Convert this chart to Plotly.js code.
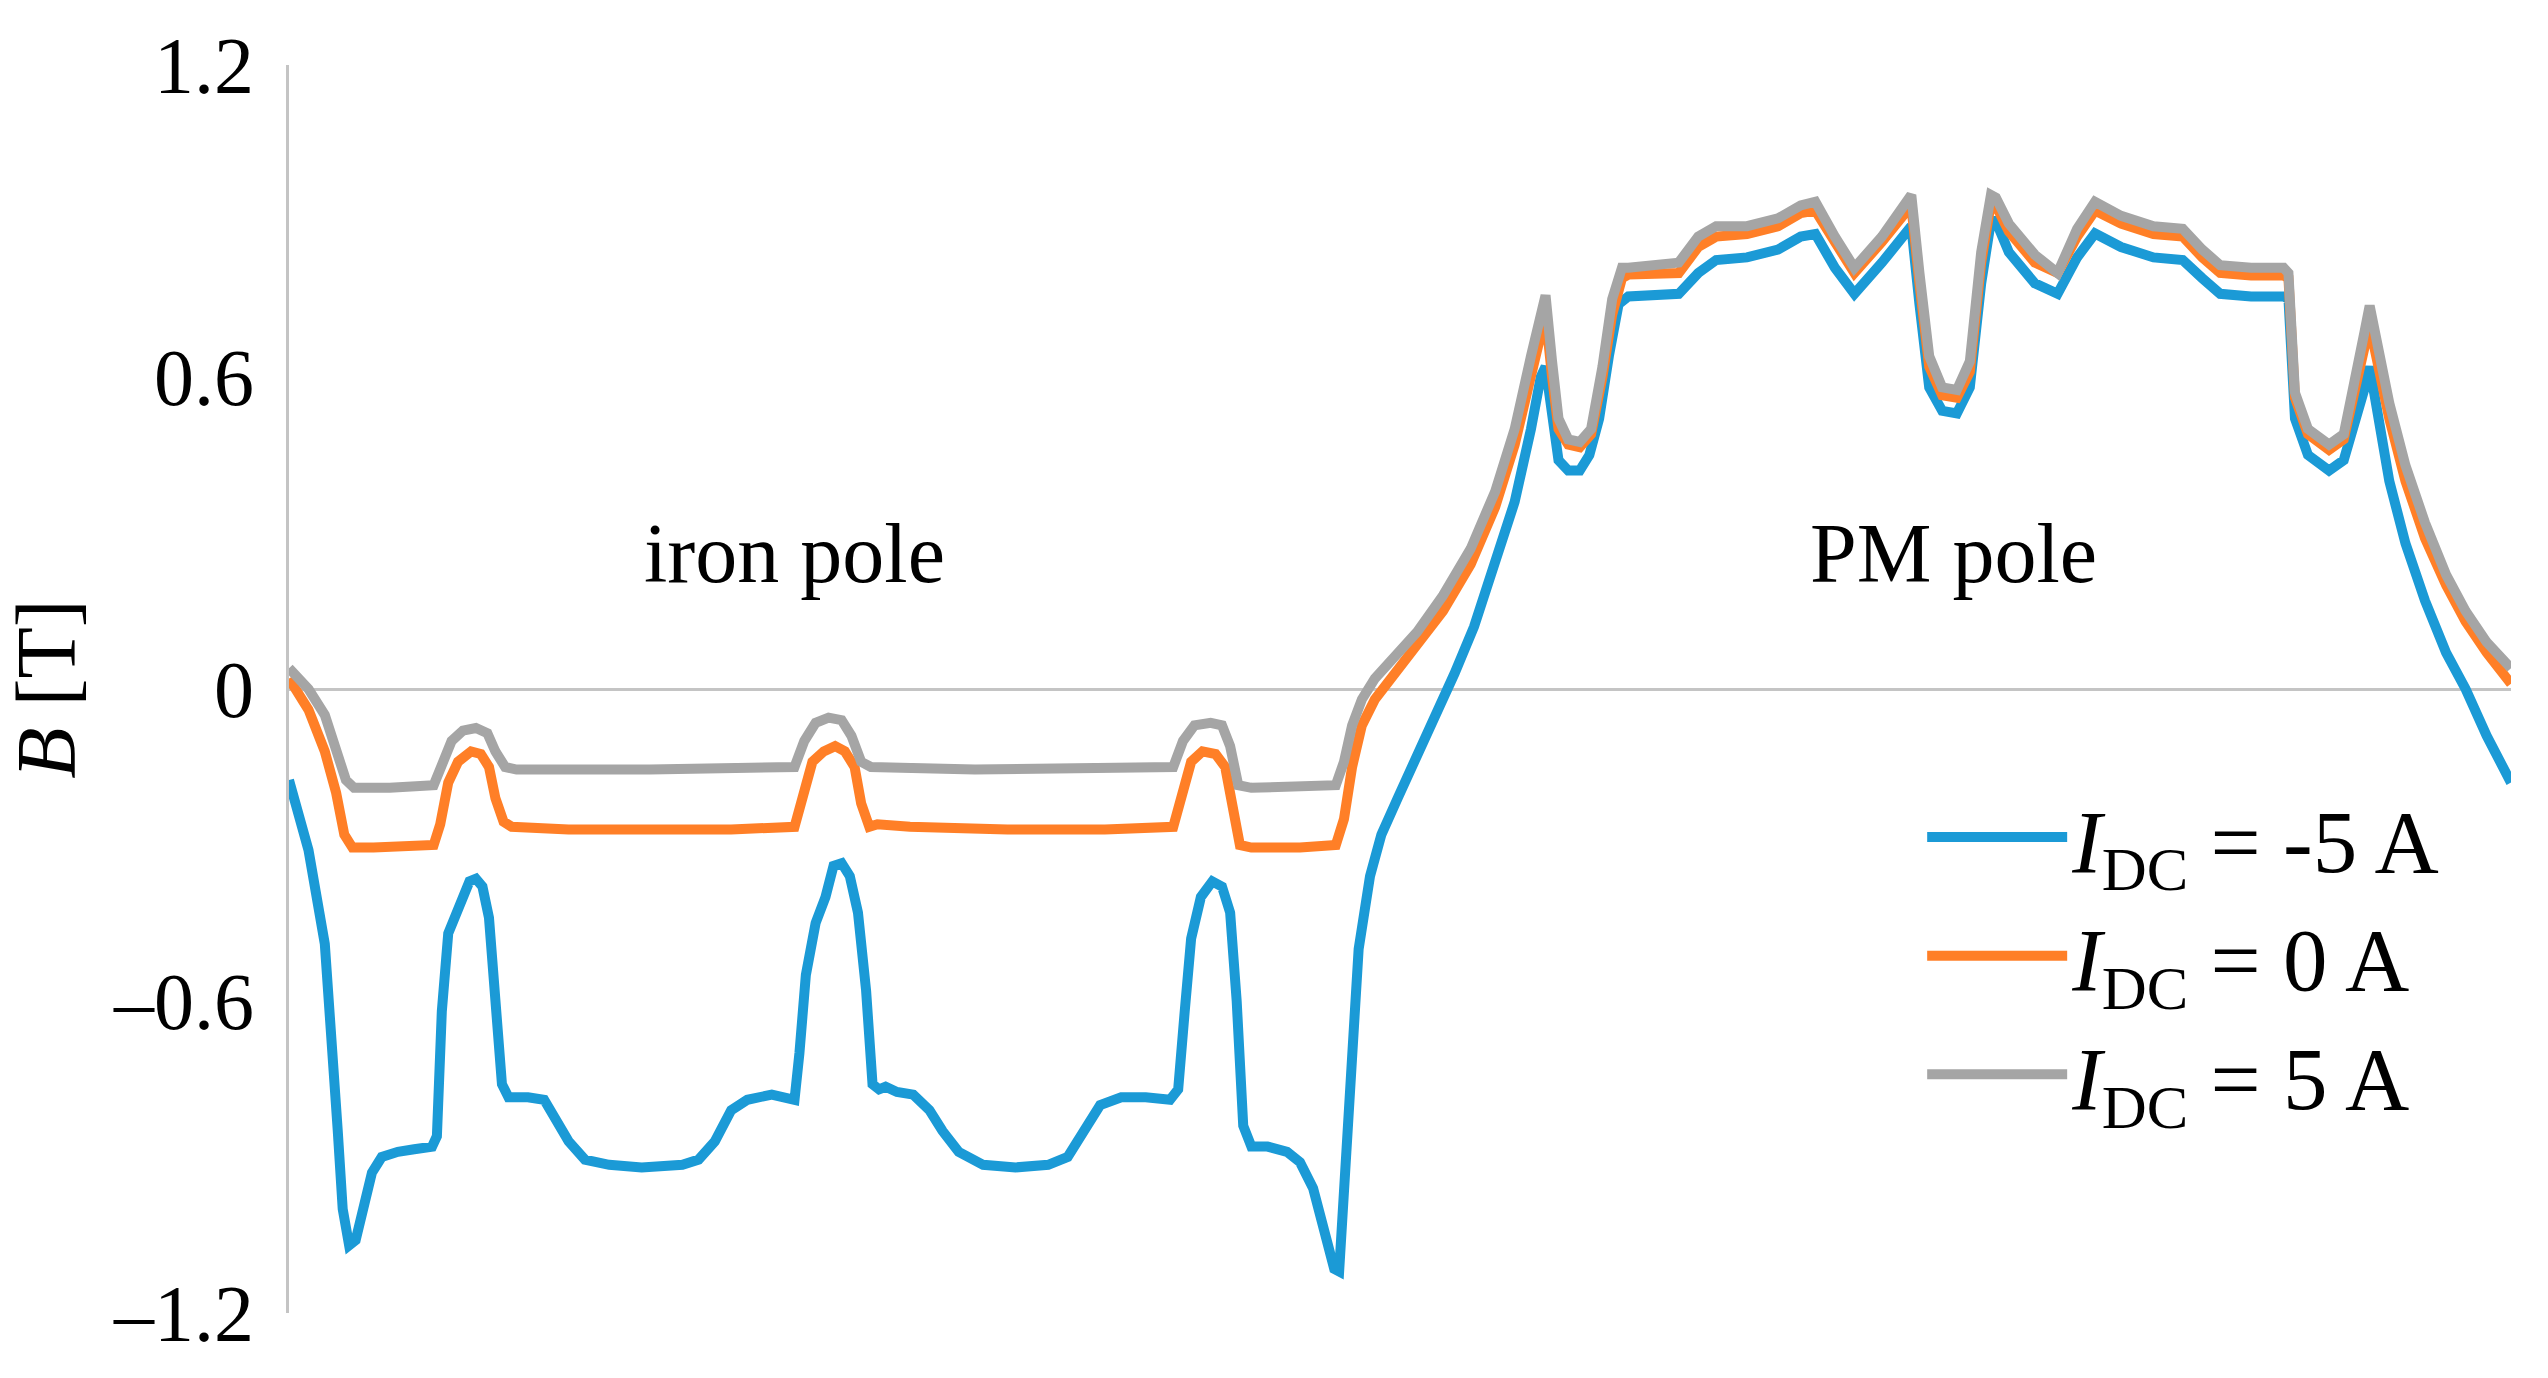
<!DOCTYPE html>
<html>
<head>
<meta charset="utf-8">
<script src="https://cdn.plot.ly/plotly-3.0.1.min.js"></script>
<style>
  html, body { margin: 0; padding: 0; background: #ffffff; }
  #chart { width: 2548px; height: 1378px; }
</style>
</head>
<body>
<div id="chart"></div>
<script>
// Rotor position (arbitrary angular units, no axis ticks in the original)
const posNeg5 = [0,1.58,2.90,3.56,3.95,4.35,4.87,5.40,6.06,6.72,7.51,8.82,10.14,11.59,11.98,12.38,12.90,13.69,14.62,15.14,15.67,16.20,16.72,17.25,17.78,19.36,20.67,21.73,22.65,23.97,25.94,28.57,31.87,33.18,34.50,35.82,37.13,39.11,40.43,40.95,41.35,41.87,42.66,43.46,44.11,44.77,45.43,46.09,46.75,47.27,47.80,48.33,49.25,50.57,51.88,52.94,54.25,56.23,58.86,61.50,63.08,64.39,65.71,67.42,69.40,71.37,72.03,72.56,73.08,73.87,74.80,75.58,76.24,76.77,77.30,77.96,79.27,80.85,81.90,82.96,83.88,84.67,85.07,85.46,85.99,86.65,87.57,88.49,89.81,91.39,93.10,94.42,96.00,97.71,99.29,100.61,101.40,101.79,102.32,102.84,103.63,104.56,105.34,106.13,106.92,107.71,108.50,110.60,112.58,114.16,115.61,118.11,120.62,122.46,123.65,125.23,126.81,129.04,130.89,131.42,132.08,132.87,133.92,135.11,136.16,137.08,137.87,138.27,139.32,141.43,143.27,144.85,146.30,148.41,151.04,153.41,154.99,156.44,158.94,161.58,161.97,162.50,163.55,165.26,166.45,167.50,168.16,168.55,169.21,170.14,171.45,173.03,174.74,176.32,178.03,180];
const bNeg5 = [-0.175,-0.31,-0.49,-0.68,-0.85,-1.00,-1.07,-1.06,-1.00,-0.93,-0.90,-0.89,-0.885,-0.88,-0.86,-0.62,-0.47,-0.42,-0.37,-0.365,-0.38,-0.44,-0.62,-0.76,-0.785,-0.785,-0.79,-0.83,-0.87,-0.905,-0.915,-0.92,-0.915,-0.905,-0.87,-0.81,-0.79,-0.78,-0.785,-0.79,-0.70,-0.55,-0.45,-0.40,-0.34,-0.335,-0.36,-0.43,-0.58,-0.76,-0.77,-0.765,-0.775,-0.78,-0.81,-0.85,-0.89,-0.915,-0.92,-0.915,-0.90,-0.85,-0.80,-0.785,-0.785,-0.79,-0.77,-0.62,-0.48,-0.40,-0.37,-0.38,-0.43,-0.60,-0.84,-0.88,-0.88,-0.89,-0.91,-0.96,-1.04,-1.115,-1.12,-0.95,-0.70,-0.50,-0.36,-0.28,-0.21,-0.13,-0.04,0.03,0.12,0.24,0.36,0.50,0.60,0.62,0.52,0.44,0.42,0.42,0.45,0.52,0.64,0.74,0.755,0.76,0.76,0.80,0.825,0.83,0.845,0.87,0.875,0.81,0.76,0.82,0.87,0.89,0.74,0.58,0.535,0.53,0.58,0.78,0.90,0.90,0.84,0.78,0.76,0.83,0.876,0.85,0.83,0.825,0.79,0.76,0.755,0.755,0.75,0.52,0.45,0.42,0.44,0.52,0.58,0.62,0.52,0.40,0.28,0.17,0.07,0.00,-0.09,-0.18];

const pos0 = [0,1.58,2.90,3.82,4.48,5.14,6.85,9.48,11.72,12.25,12.90,13.69,14.75,15.54,16.20,16.72,17.38,18.04,22.65,29.23,35.82,40.95,41.61,42.40,43.32,44.24,45.03,45.82,46.35,47.01,47.67,50.30,58.20,66.10,71.63,72.29,73.08,74.00,75.06,75.84,76.37,77.03,77.96,81.90,84.80,85.46,86.12,86.91,87.96,89.55,91.39,93.49,95.73,97.71,99.29,100.61,101.40,101.79,102.32,102.84,103.63,104.56,105.48,106.40,107.19,107.98,108.50,110.87,112.58,114.16,115.61,118.11,120.62,122.46,123.65,125.23,126.81,129.04,130.89,131.42,132.08,132.87,133.92,135.11,136.16,137.08,137.87,138.27,139.32,141.43,143.27,144.85,146.30,148.41,151.04,153.41,154.99,156.44,158.94,161.58,161.97,162.50,163.55,165.26,166.45,167.50,168.16,168.55,169.21,170.14,171.45,173.03,174.74,176.32,178.03,180];
const b0 = [0.02,-0.04,-0.12,-0.20,-0.28,-0.305,-0.305,-0.30,-0.30,-0.26,-0.18,-0.14,-0.12,-0.125,-0.15,-0.21,-0.255,-0.265,-0.27,-0.27,-0.27,-0.265,-0.20,-0.14,-0.12,-0.11,-0.12,-0.15,-0.22,-0.265,-0.26,-0.265,-0.27,-0.27,-0.265,-0.20,-0.14,-0.12,-0.125,-0.15,-0.21,-0.30,-0.305,-0.305,-0.30,-0.25,-0.15,-0.07,-0.02,0.03,0.08,0.15,0.24,0.35,0.47,0.60,0.69,0.72,0.60,0.50,0.47,0.465,0.49,0.60,0.72,0.79,0.797,0.80,0.80,0.85,0.87,0.875,0.89,0.915,0.92,0.86,0.80,0.86,0.915,0.93,0.78,0.62,0.565,0.56,0.61,0.82,0.935,0.93,0.88,0.82,0.80,0.87,0.92,0.895,0.875,0.87,0.83,0.80,0.795,0.795,0.79,0.56,0.49,0.46,0.48,0.58,0.66,0.70,0.62,0.52,0.40,0.29,0.20,0.13,0.07,0.01];

const pos5 = [0,1.58,2.90,3.82,4.61,5.27,8.16,11.72,12.38,13.17,14.09,15.14,16.07,16.72,17.51,18.44,29.23,40.95,41.74,42.66,43.71,44.77,45.56,46.35,47.14,55.57,71.63,72.42,73.35,74.66,75.58,76.24,76.90,77.96,84.80,85.46,86.12,86.91,87.96,89.55,91.39,93.49,95.73,97.71,99.29,100.61,101.40,101.79,102.32,102.84,103.63,104.56,105.48,106.40,107.19,107.98,108.50,110.87,112.58,114.16,115.61,118.11,120.62,122.46,123.65,125.23,126.81,129.04,130.89,131.42,132.08,132.87,133.92,135.11,136.16,137.08,137.87,138.27,139.32,141.43,143.27,144.85,146.30,148.41,151.04,153.41,154.99,156.44,158.94,161.58,161.97,162.50,163.55,165.26,166.45,167.50,168.16,168.55,169.21,170.14,171.45,173.03,174.74,176.32,178.03,180];
const b5 = [0.04,0.00,-0.05,-0.11,-0.175,-0.19,-0.19,-0.185,-0.14,-0.10,-0.08,-0.075,-0.085,-0.12,-0.15,-0.155,-0.155,-0.15,-0.10,-0.065,-0.055,-0.06,-0.09,-0.14,-0.15,-0.155,-0.15,-0.10,-0.07,-0.065,-0.07,-0.11,-0.185,-0.19,-0.185,-0.14,-0.07,-0.02,0.02,0.06,0.11,0.18,0.27,0.38,0.50,0.64,0.73,0.757,0.63,0.52,0.48,0.475,0.50,0.62,0.75,0.81,0.81,0.815,0.82,0.87,0.89,0.89,0.905,0.93,0.937,0.87,0.81,0.87,0.93,0.95,0.80,0.64,0.58,0.575,0.63,0.84,0.95,0.945,0.895,0.835,0.80,0.885,0.937,0.91,0.89,0.885,0.845,0.815,0.81,0.81,0.80,0.57,0.50,0.47,0.49,0.60,0.69,0.737,0.65,0.55,0.43,0.32,0.22,0.15,0.09,0.04];

const seriesNames = ['<i>I</i><sub>DC</sub> = -5 A', '<i>I</i><sub>DC</sub> = 0 A', '<i>I</i><sub>DC</sub> = 5 A'];
const seriesColors = ['#1b9ad6', '#ff7f27', '#a5a5a5'];
const yTicks = [-1.2, -0.6, 0, 0.6, 1.2];
const yTickText = ['\u20131.2', '\u20130.6', '0', '0.6', '1.2'];
const regionLabels = ['iron pole', 'PM pole'];
const regionX = [40.95, 134.8];
const regionY = [0.26, 0.26];

const FONT = '"Liberation Serif", "Times New Roman", serif';

const traces = [
  {x: posNeg5, y: bNeg5, name: seriesNames[0]},
  {x: pos0, y: b0, name: seriesNames[1]},
  {x: pos5, y: b5, name: seriesNames[2]}
].map((t, i) => Object.assign(t, {
  type: 'scatter', mode: 'lines',
  line: {color: seriesColors[i], width: 10},
  hoverinfo: 'skip'
}));

const layout = {
  width: 2548, height: 1378,
  margin: {l: 289, r: 37, t: 65, b: 65, autoexpand: false},
  paper_bgcolor: '#ffffff', plot_bgcolor: '#ffffff',
  font: {family: FONT, size: 80, color: '#000000'},
  showlegend: true,
  legend: {
    x: 0.735, y: 0.433, xanchor: 'left', yanchor: 'top',
    font: {family: FONT, size: 89, color: '#000000'},
    bgcolor: 'rgba(0,0,0,0)', borderwidth: 0,
    itemwidth: 140, tracegroupgap: 0
  },
  xaxis: {
    range: [0, 180], showgrid: false, zeroline: false, showline: false,
    showticklabels: false, ticks: '', fixedrange: true
  },
  yaxis: {
    range: [-1.2, 1.2], tickmode: 'array', tickvals: yTicks, ticktext: yTickText,
    showgrid: false, zeroline: true, zerolinecolor: '#c4c4c4', zerolinewidth: 3,
    showline: true, linecolor: '#c4c4c4', linewidth: 3,
    ticks: '', ticklabelstandoff: 16,
    tickfont: {family: FONT, size: 80, color: '#000000'},
    title: {text: '<i>B</i> [T]', font: {family: FONT, size: 84, color: '#000000'}, standoff: 14},
    automargin: false, fixedrange: true
  },
  annotations: regionLabels.map((t, i) => ({
    x: regionX[i], y: regionY[i], xref: 'x', yref: 'y',
    text: t, showarrow: false, xanchor: 'center', yanchor: 'middle',
    font: {family: FONT, size: 84, color: '#000000'}
  }))
};

Plotly.newPlot('chart', traces, layout, {staticPlot: true, displayModeBar: false});
</script>
</body>
</html>
